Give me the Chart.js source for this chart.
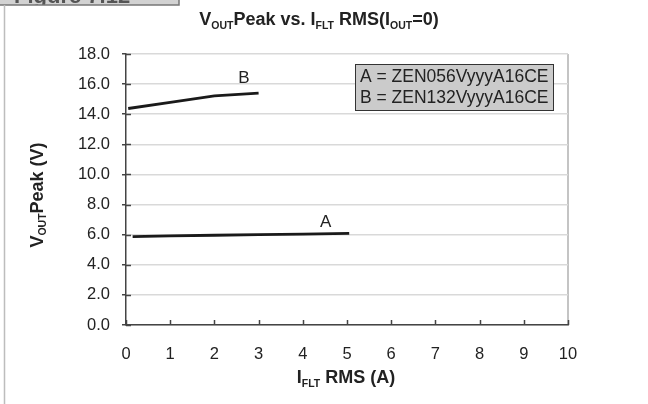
<!DOCTYPE html>
<html>
<head>
<meta charset="utf-8">
<script src="https://cdn.jsdelivr.net/npm/chart.js@4"></script>
<style>
  body { margin: 0; background: #fff; }
  #wrap { width: 648px; height: 404px; }
</style>
</head>
<body>
<div id="wrap"><canvas id="chart" width="648" height="404"></canvas></div>
<script>
// Values
const xA = [0.15, 1, 2, 3, 4, 5.05];
const yA = [5.87, 5.92, 5.96, 6.0, 6.04, 6.09];
const xB = [0.05, 1, 2, 3];
const yB = [14.38, 14.79, 15.22, 15.4];

const noteText = ['A', 'B'];
const noteX = [4.52, 2.67];
const noteY = [6.84, 16.4];

const legendLines = ['A = ZEN056VyyyA16CE', 'B = ZEN132VyyyA16CE'];

const xMin = 0, xMax = 10, xStep = 1;
const yMin = 0, yMax = 18, yStep = 2;

const FONT = '"Liberation Sans", Arial, sans-serif';

function toPoints(xs, ys) {
    return xs.map((x, i) => ({ x: x, y: ys[i] }));
}

// text with subscripts, parts = [[text, isSub], ...]
function drawRich(ctx, parts, cx, baseY, size, subSize) {
    let w = 0;
    parts.forEach(p => {
        ctx.font = 'bold ' + (p[1] ? subSize : size) + 'px ' + FONT;
        w += ctx.measureText(p[0]).width;
    });
    let x = cx - w / 2;
    ctx.textAlign = 'left';
    ctx.textBaseline = 'alphabetic';
    parts.forEach(p => {
        ctx.font = 'bold ' + (p[1] ? subSize : size) + 'px ' + FONT;
        ctx.fillText(p[0], x, baseY + (p[1] ? 3.5 : 0));
        x += ctx.measureText(p[0]).width;
    });
}

const extras = {
    id: 'extras',
    afterDraw(chart) {
        const ctx = chart.ctx;
        const xs = chart.scales.x, ys = chart.scales.y;
        const area = chart.chartArea;
        ctx.save();

        // inner tick marks
        ctx.strokeStyle = '#444';
        ctx.lineWidth = 1.5;
        ctx.beginPath();
        for (let v = yMin; v <= yMax; v += yStep) {
            const py = Math.round(ys.getPixelForValue(v)) + 0.5;
            ctx.moveTo(area.left, py);
            ctx.lineTo(area.left + 5, py);
        }
        for (let v = xMin; v <= xMax; v += xStep) {
            const px = Math.round(xs.getPixelForValue(v)) + 0.5;
            ctx.moveTo(px, area.bottom);
            ctx.lineTo(px, area.bottom - 5);
        }
        ctx.stroke();

        // series labels
        ctx.fillStyle = '#222';
        ctx.font = '17px ' + FONT;
        ctx.textAlign = 'center';
        ctx.textBaseline = 'middle';
        noteText.forEach((t, i) => {
            ctx.fillText(t, xs.getPixelForValue(noteX[i]), ys.getPixelForValue(noteY[i]));
        });

        // legend box
        ctx.fillStyle = '#cbcbcb';
        ctx.fillRect(355, 64, 199, 47);
        ctx.strokeStyle = '#333';
        ctx.lineWidth = 1;
        ctx.strokeRect(355.5, 64.5, 198, 46);
        ctx.fillStyle = '#222';
        ctx.font = '17.5px ' + FONT;
        ctx.textAlign = 'left';
        ctx.textBaseline = 'middle';
        legendLines.forEach((t, i) => ctx.fillText(t, 360, 77 + i * 21.5));

        // title
        ctx.fillStyle = '#222';
        drawRich(ctx, [['V', 0], ['OUT', 1], ['Peak vs. I', 0], ['FLT', 1], [' RMS(I', 0], ['OUT', 1], ['=0)', 0]], 319, 25.3, 18, 10.5);

        // x title
        drawRich(ctx, [['I', 0], ['FLT', 1], [' RMS (A)', 0]], 346, 383, 18, 10.5);

        // y title
        ctx.save();
        ctx.translate(42.7, 195);
        ctx.rotate(-Math.PI / 2);
        drawRich(ctx, [['V', 0], ['OUT', 1], ['Peak (V)', 0]], 0, 0, 18, 10.5);
        ctx.restore();

        // cut off figure label at the top left
        ctx.fillStyle = '#d2d2d2';
        ctx.fillRect(0, 0, 179, 5);
        ctx.save();
        ctx.beginPath();
        ctx.rect(0, 0, 179, 5);
        ctx.clip();
        ctx.fillStyle = '#555';
        ctx.font = 'bold 22px ' + FONT;
        ctx.textAlign = 'left';
        ctx.textBaseline = 'alphabetic';
        ctx.fillText('Figure 7.12', 14, 3);
        ctx.restore();
        ctx.strokeStyle = '#777';
        ctx.lineWidth = 1.5;
        ctx.beginPath();
        ctx.moveTo(0, 5);
        ctx.lineTo(179, 5);
        ctx.lineTo(179, 0);
        ctx.stroke();

        // page border on the left
        ctx.strokeStyle = '#bdbdbd';
        ctx.lineWidth = 1.5;
        ctx.beginPath();
        ctx.moveTo(4.5, 5);
        ctx.lineTo(4.5, 404);
        ctx.stroke();

        ctx.restore();
    }
};

new Chart(document.getElementById('chart'), {
    type: 'scatter',
    data: {
        datasets: [
            { data: toPoints(xA, yA), showLine: true, borderColor: '#1a1a1a', borderWidth: 2.8, pointRadius: 0 },
            { data: toPoints(xB, yB), showLine: true, borderColor: '#1a1a1a', borderWidth: 2.8, pointRadius: 0 }
        ]
    },
    options: {
        responsive: false,
        animation: false,
        layout: { padding: { left: 0, top: 54, right: 80, bottom: 0 } },
        plugins: { legend: { display: false }, tooltip: { enabled: false }, title: { display: false } },
        scales: {
            x: {
                type: 'linear',
                min: xMin, max: xMax,
                afterFit(scale) { scale.height = 79; },
                ticks: { stepSize: xStep, color: '#222', padding: 20, font: { family: FONT, size: 16.5 } },
                grid: {
                    drawTicks: false,
                    lineWidth: 2,
                    color: c => (c.tick && c.tick.value === xMax) ? '#c4c4c4' : 'rgba(0,0,0,0)'
                },
                border: { color: '#444', width: 1.5 }
            },
            y: {
                type: 'linear',
                min: yMin, max: yMax,
                afterFit(scale) { scale.width = 126; },
                ticks: {
                    stepSize: yStep, color: '#222', padding: 12,
                    font: { family: FONT, size: 16.5 },
                    callback: v => Number(v).toFixed(1)
                },
                grid: { color: '#d9d9d9', lineWidth: 1.5, tickColor: '#444', tickLength: 4 },
                border: { color: '#444', width: 1.5 }
            }
        }
    },
    plugins: [extras]
});
</script>
</body>
</html>
